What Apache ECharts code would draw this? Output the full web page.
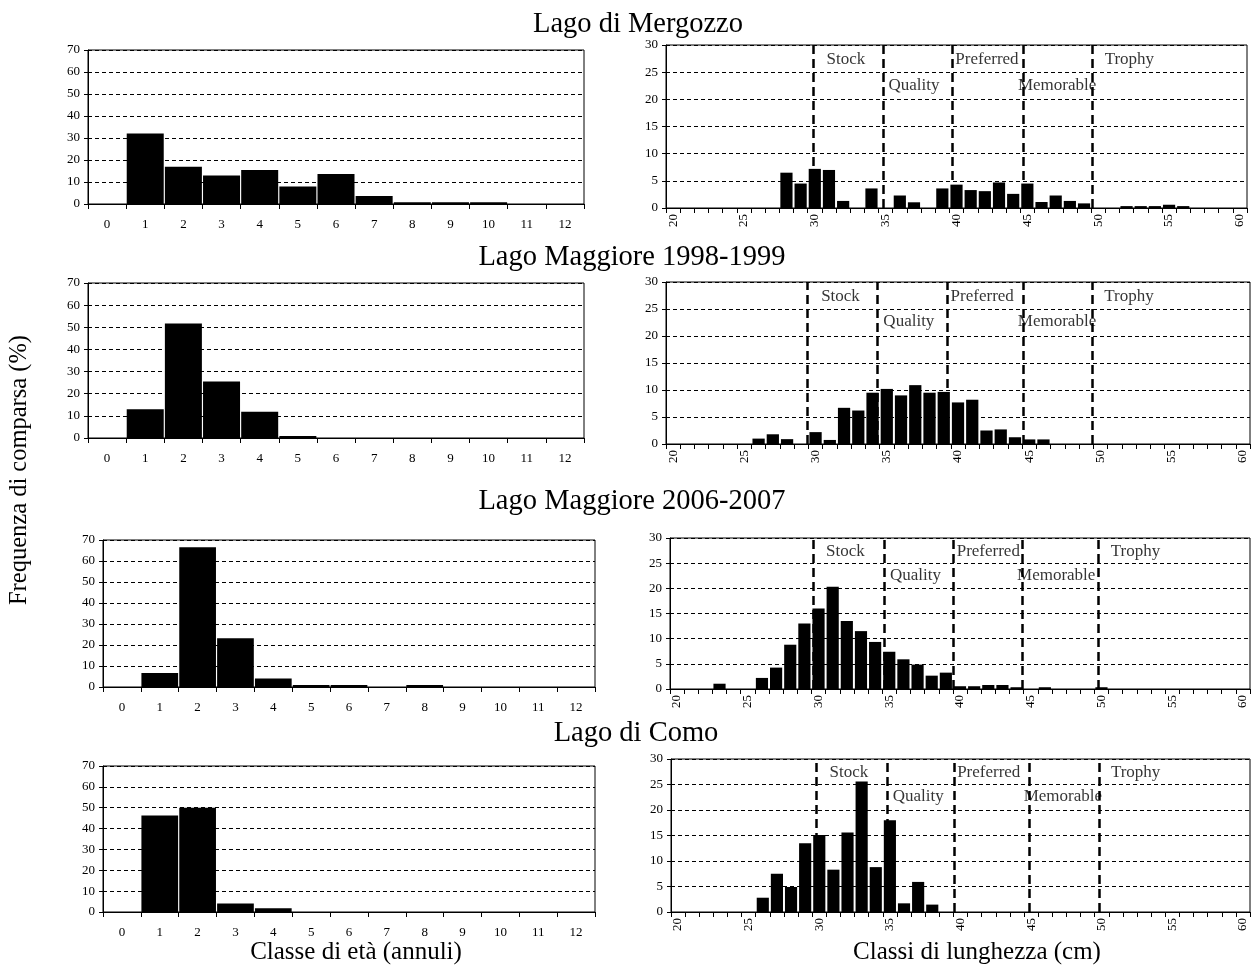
<!DOCTYPE html>
<html>
<head>
<meta charset="utf-8">
<script src="https://cdn.jsdelivr.net/npm/echarts@6/dist/echarts.min.js"></script>
<style>
html, body { margin: 0; background: #fff; }
#chart { width: 1252px; height: 965px; }
</style>
</head>
<body>
<div id="chart"></div>
<script>
// categorie degli assi
var ageClasses = ['0', '1', '2', '3', '4', '5', '6', '7', '8', '9', '10', '11', '12'];
var lengthClasses = ['20', '21', '22', '23', '24', '25', '26', '27', '28', '29',
  '30', '31', '32', '33', '34', '35', '36', '37', '38', '39',
  '40', '41', '42', '43', '44', '45', '46', '47', '48', '49',
  '50', '51', '52', '53', '54', '55', '56', '57', '58', '59', '60'];

var lakes = ['Lago di Mergozzo', 'Lago Maggiore 1998-1999', 'Lago Maggiore 2006-2007', 'Lago di Como'];

// frequenze per classe di eta (%)
var ageMergozzo = [0, 32.1, 16.9, 13.0, 15.4, 8.0, 13.6, 3.6, 0.75, 0.75, 0.75, 0, 0];
var ageMaggiore98 = [0, 13.0, 51.7, 25.5, 11.8, 0.9, 0, 0, 0, 0, 0, 0, 0];
var ageMaggiore06 = [0, 6.7, 66.5, 23.2, 4.0, 0.95, 0.95, 0, 0.95, 0, 0, 0, 0];
var ageComo = [0, 46.3, 50.0, 4.1, 1.75, 0, 0, 0, 0, 0, 0, 0, 0];

// frequenze per classe di lunghezza (%), 20..60 cm
var lenMergozzo = [
  0, 0, 0, 0, 0, 0, 0, 0, 6.5, 4.5,
  7.2, 7.0, 1.3, 0, 3.6, 0, 2.3, 1.05, 0, 3.6,
  4.3, 3.3, 3.1, 4.7, 2.6, 4.5, 1.1, 2.3, 1.3, 0.85,
  0, 0, 0.35, 0.35, 0.35, 0.6, 0.35, 0, 0, 0, 0];
var lenMaggiore98 = [
  0, 0, 0, 0, 0, 0, 1.0, 1.8, 0.9, 0,
  2.2, 0.75, 6.7, 6.2, 9.5, 10.2, 9.0, 10.9, 9.5, 9.65,
  7.7, 8.2, 2.5, 2.7, 1.25, 0.85, 0.85, 0, 0, 0,
  0, 0, 0, 0, 0, 0, 0, 0, 0, 0, 0];
var lenMaggiore06 = [
  0, 0, 0, 1.05, 0, 0, 2.2, 4.25, 8.8, 13.0,
  16.0, 20.3, 13.5, 11.5, 9.35, 7.4, 5.9, 4.85, 2.65, 3.25,
  0.55, 0.55, 0.8, 0.8, 0.35, 0, 0.35, 0, 0, 0,
  0.35, 0, 0, 0, 0, 0, 0, 0, 0, 0, 0];
var lenComo = [
  0, 0, 0, 0, 0, 0, 2.8, 7.5, 4.9, 13.5,
  15.1, 8.3, 15.6, 25.6, 8.8, 18.0, 1.7, 5.9, 1.45, 0,
  0, 0, 0, 0, 0, 0, 0, 0, 0, 0,
  0, 0, 0, 0, 0, 0, 0, 0, 0, 0, 0];

// limiti delle classi PSD (cm), come tracciati nelle figure
var classNames = ['Stock', 'Quality', 'Preferred', 'Memorable', 'Trophy'];
var limMergozzo = [29.9, 34.8, 39.7, 44.7, 49.6];
var limMaggiore98 = [29.45, 34.35, 39.25, 44.55, 49.4];
var limMaggiore06 = [29.6, 34.65, 39.55, 44.4, 49.8];
var limComo = [29.8, 34.8, 39.55, 44.85, 49.8];

var ageData = [ageMergozzo, ageMaggiore98, ageMaggiore06, ageComo];
var lenData = [lenMergozzo, lenMaggiore98, lenMaggiore06, lenComo];
var limits = [limMergozzo, limMaggiore98, limMaggiore06, limComo];

// posizione delle etichette rispetto al limite
var labelOffset = [2.3, 2.2, 2.45, 2.4, 2.6];
var labelY = [27.3, 22.6, 27.3, 22.6, 27.3];

var leftBoxes = [
  { left: 88, top: 50, width: 496, height: 154 },
  { left: 88, top: 283, width: 496, height: 155 },
  { left: 103, top: 540, width: 492, height: 147 },
  { left: 103, top: 766, width: 492, height: 146 }
];
var rightBoxes = [
  { left: 666, top: 45, width: 581, height: 163 },
  { left: 666, top: 282, width: 584, height: 162 },
  { left: 670, top: 538, width: 580, height: 151 },
  { left: 671, top: 759, width: 579, height: 153 }
];
var titlePos = [[638, 25], [632, 258], [632, 502], [636, 734]];

var serif = 'Liberation Serif, Times New Roman, serif';
var black = '#000';

var grids = [], xAxes = [], yAxes = [], series = [], graphics = [];

function boxGrid(b) {
  return {
    left: b.left, top: b.top, width: b.width, height: b.height,
    show: true, borderColor: black, borderWidth: 1, backgroundColor: 'transparent'
  };
}

function centered(text, size) {
  return {
    text: text, font: size + 'px ' + serif, fill: black,
    align: 'center', verticalAlign: 'middle', textAlign: 'center', textVerticalAlign: 'middle'
  };
}

var tickLabel = { color: black, fontFamily: serif, fontSize: 13 };
var dashed = { show: true, lineStyle: { color: black, width: 1, type: [4, 3] } };

for (var i = 0; i < 4; i++) {
  grids.push(boxGrid(leftBoxes[i]));
  grids.push(boxGrid(rightBoxes[i]));
  var gL = 2 * i, gR = 2 * i + 1;
  var xL = xAxes.length;

  xAxes.push({
    type: 'category', gridIndex: gL, data: ageClasses,
    axisLine: { lineStyle: { color: black, width: 1 } },
    axisTick: { show: true, length: 5, lineStyle: { color: black } },
    axisLabel: Object.assign({ margin: 14 }, tickLabel)
  });
  xAxes.push({
    type: 'category', gridIndex: gR, data: lengthClasses,
    axisLine: { lineStyle: { color: black, width: 1 } },
    axisTick: { show: true, interval: 0, length: 5, lineStyle: { color: black } },
    axisLabel: Object.assign({ margin: 6, interval: 4, rotate: 90 }, tickLabel)
  });
  xAxes.push({
    type: 'value', gridIndex: gR, min: 19.5, max: 60.5, show: false
  });

  yAxes.push({
    type: 'value', gridIndex: gL, min: 0, max: 70, interval: 10,
    axisLine: { show: true, lineStyle: { color: black } },
    axisTick: { show: true, length: 4, lineStyle: { color: black } },
    axisLabel: tickLabel, splitLine: dashed
  });
  yAxes.push({
    type: 'value', gridIndex: gR, min: 0, max: 30, interval: 5,
    axisLine: { show: true, lineStyle: { color: black } },
    axisTick: { show: true, length: 4, lineStyle: { color: black } },
    axisLabel: tickLabel, splitLine: dashed
  });

  series.push({
    type: 'bar', xAxisIndex: xL, yAxisIndex: gL, data: ageData[i],
    barCategoryGap: '3%', itemStyle: { color: black }, silent: true
  });
  series.push({
    type: 'bar', xAxisIndex: xL + 1, yAxisIndex: gR, data: lenData[i],
    barCategoryGap: '14%', itemStyle: { color: black }, silent: true
  });

  var lim = limits[i];
  series.push({
    type: 'scatter', xAxisIndex: xL + 2, yAxisIndex: gR, silent: true,
    symbolSize: 1, itemStyle: { color: 'rgba(0,0,0,0)' },
    data: classNames.map(function (n, k) { return [lim[k] + labelOffset[k], labelY[k], n]; }),
    label: {
      show: true, position: 'inside', color: black, fontFamily: serif, fontSize: 17,
      formatter: function (p) { return p.value[2]; }
    },
    markLine: {
      silent: true, symbol: ['none', 'none'], label: { show: false },
      lineStyle: { color: black, width: 2.5, type: [9, 5] },
      data: lim.map(function (v) { return { xAxis: v }; })
    }
  });

  graphics.push({
    type: 'text', x: titlePos[i][0], y: titlePos[i][1],
    style: centered(lakes[i], 28.5)
  });
}

graphics.push({
  type: 'text', x: 20, y: 470, rotation: Math.PI / 2,
  style: centered('Frequenza di comparsa (%)', 24.5)
});
graphics.push({
  type: 'text', x: 356, y: 952,
  style: centered('Classe di età (annuli)', 25)
});
graphics.push({
  type: 'text', x: 977, y: 952,
  style: centered('Classi di lunghezza (cm)', 25)
});

var chart = echarts.init(document.getElementById('chart'));
chart.setOption({
  animation: false,
  backgroundColor: '#fff',
  grid: grids,
  xAxis: xAxes,
  yAxis: yAxes,
  series: series,
  graphic: graphics
});
</script>
</body>
</html>
